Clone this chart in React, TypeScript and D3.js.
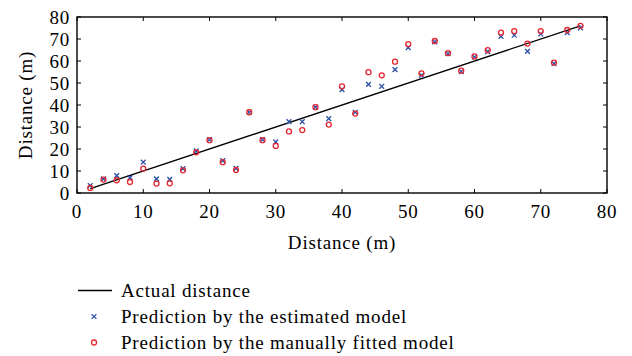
import * as d3 from "d3";

// x positions of measurements (m)
const actual = [2, 4, 6, 8, 10, 12, 14, 16, 18, 20, 22, 24, 26, 28, 30, 32, 34, 36, 38, 40,
  42, 44, 46, 48, 50, 52, 54, 56, 58, 60, 62, 64, 66, 68, 70, 72, 74, 76];

// prediction by the estimated model
const estimated = [3.4, 6.4, 7.9, 7.0, 14.0, 6.4, 6.2, 11.1, 19.1, 24.3, 14.7, 11.2, 36.7, 24.3,
  23.2, 32.4, 32.4, 39.0, 33.8, 47.0, 36.7, 49.4, 48.5, 56.1, 66.1, 53.5, 68.7, 63.4, 55.2, 61.8,
  64.3, 71.2, 71.7, 64.4, 72.3, 58.8, 72.9, 75.1];

// prediction by the manually fitted model
const manual = [2.3, 6.1, 5.8, 5.0, 11.1, 4.3, 4.4, 10.3, 18.5, 24.0, 14.0, 10.5, 36.7, 24.0,
  21.4, 28.0, 28.6, 39.0, 31.1, 48.5, 36.1, 54.9, 53.5, 59.7, 67.7, 54.4, 69.1, 63.6, 55.6, 62.1,
  64.9, 72.9, 73.6, 67.9, 73.6, 59.3, 74.1, 76.0];

const ticks = [0, 10, 20, 30, 40, 50, 60, 70, 80];

const legendLabels = [
  "Actual distance",
  "Prediction by the estimated model",
  "Prediction by the manually fitted model",
];

const blue = "#2b4ea6";
const red = "#e8262e";

export default function App() {
  const width = 632;
  const height = 356;
  const left = 77, right = 607, top = 17, bottom = 193;
  const font = "'Liberation Serif', 'Times New Roman', serif";
  const fs = 19;
  const ls = 0.8;

  const x = d3.scaleLinear().domain([0, 80]).range([left, right]);
  const y = d3.scaleLinear().domain([0, 80]).range([bottom, top]);

  const line = d3.line<number>().x((d) => x(d)).y((d) => y(d));

  const cross = (cx: number, cy: number, s: number, key?: string) => (
    <path
      key={key}
      d={`M${cx - s},${cy - s}L${cx + s},${cy + s}M${cx - s},${cy + s}L${cx + s},${cy - s}`}
      stroke={blue}
      strokeWidth={1.3}
    />
  );

  return (
    <svg
      width={width}
      height={height}
      style={{ position: "absolute", left: 0, top: 0, background: "#fff" }}
      fontFamily={font}
      letterSpacing={ls}
    >
      {/* tick marks, inward on all sides */}
      {ticks.map((t) => (
        <g key={"t" + t} stroke="#000" strokeWidth={1}>
          <line x1={x(t)} x2={x(t)} y1={bottom} y2={bottom - 4} />
          <line x1={x(t)} x2={x(t)} y1={top} y2={top + 4} />
          <line x1={left} x2={left + 4} y1={y(t)} y2={y(t)} />
          <line x1={right} x2={right - 4} y1={y(t)} y2={y(t)} />
        </g>
      ))}

      {/* actual distance line */}
      <path d={line([actual[0], actual[actual.length - 1]]) || ""} stroke="#000" strokeWidth={1.4} fill="none" />

      {actual.map((a, i) => cross(x(a), y(estimated[i]), 2.4, "e" + i))}
      {actual.map((a, i) => (
        <circle key={"m" + i} cx={x(a)} cy={y(manual[i])} r={2.5} fill="none" stroke={red} strokeWidth={1.3} />
      ))}

      <rect x={left} y={top} width={right - left} height={bottom - top} fill="none" stroke="#000" strokeWidth={1.4} />

      {ticks.map((t) => (
        <text key={"xl" + t} x={x(t)} y={bottom + 18} fontSize={fs} textAnchor="middle" dominantBaseline="central">
          {t}
        </text>
      ))}
      {ticks.map((t) => (
        <text key={"yl" + t} x={left - 7} y={y(t)} fontSize={fs} textAnchor="end" dominantBaseline="central">
          {t}
        </text>
      ))}

      <text x={(left + right) / 2} y={242} fontSize={fs} textAnchor="middle" dominantBaseline="central">
        Distance (m)
      </text>
      <text
        transform={`translate(25,${(top + bottom) / 2}) rotate(-90)`}
        fontSize={fs}
        textAnchor="middle"
        dominantBaseline="central"
      >
        Distance (m)
      </text>

      {/* legend */}
      <g>
        <line x1={78} x2={112} y1={290.5} y2={290.5} stroke="#000" strokeWidth={1.4} />
        {cross(94, 316.5, 2.4)}
        <circle cx={94} cy={342.5} r={2.5} fill="none" stroke={red} strokeWidth={1.3} />
        {legendLabels.map((l, i) => (
          <text key={l} x={121} y={290.5 + i * 26} fontSize={fs} dominantBaseline="central">
            {l}
          </text>
        ))}
      </g>
    </svg>
  );
}
